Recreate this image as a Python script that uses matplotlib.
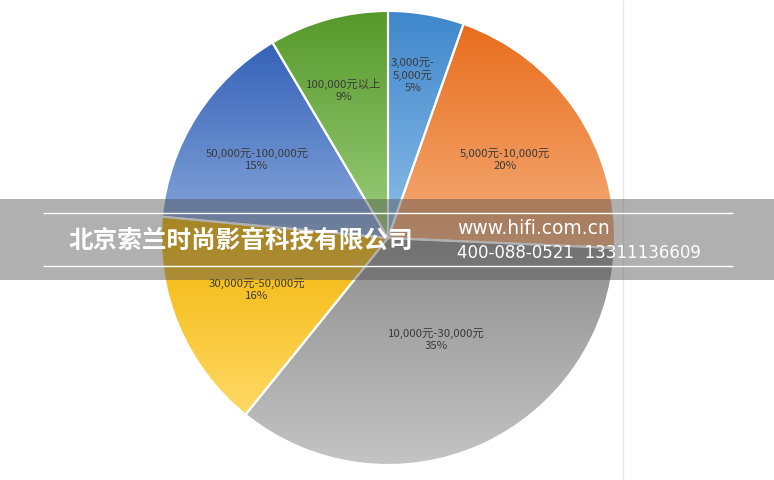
import numpy as np
import matplotlib.pyplot as plt
from matplotlib.colors import LinearSegmentedColormap

plt.rcParams['font.family'] = ['Noto Sans CJK SC', 'DejaVu Sans']

# data
categories = ['3,000元-\n5,000元', '5,000元-10,000元', '10,000元-30,000元',
              '30,000元-50,000元', '50,000元-100,000元', '100,000元以上']
shares = [5.4, 20.3, 35.1, 15.7, 15.0, 8.5]
pct_labels = ['5%', '20%', '35%', '16%', '15%', '9%']

# styles
top_colors = ['#3f87cc', '#e86d1c', '#8e8e8e', '#f2b300', '#3462b8', '#56992a']
bottom_colors = ['#8dbde8', '#f5ae7c', '#c4c4c4', '#ffd966', '#8aa9dc', '#9cce7c']
label_pos = [(413, 75), (505, 160), (436, 340), (257, 290), (257, 160), (344, 90)]
W, H = 774, 480
cx, cy, R = 388, H - 238, 227

fig = plt.figure(figsize=(W / 100, H / 100), dpi=100)
ax = fig.add_axes([0, 0, 1, 1])

wedges, _ = ax.pie(shares, center=(cx, cy), radius=R, startangle=90,
                   counterclock=False, frame=True,
                   wedgeprops=dict(edgecolor='white', linewidth=1.5))

# vertical gradient inside every slice
grad = np.linspace(0, 1, 256).reshape(-1, 1)
for w, c0, c1 in zip(wedges, top_colors, bottom_colors):
    w.set_facecolor('none')
    w.set_zorder(3)
    th = np.radians(np.linspace(w.theta1, w.theta2, 200))
    ys = np.concatenate([[cy], cy + R * np.sin(th)])
    cmap = LinearSegmentedColormap.from_list('g', [c0, c1])
    im = ax.imshow(grad, cmap=cmap, aspect='auto', origin='upper',
                   extent=(cx - R, cx + R, ys.min(), ys.max()), zorder=2)
    im.set_clip_path(w)

for (x, y), cat, p in zip(label_pos, categories, pct_labels):
    ax.text(x, H - y, f'{cat}\n{p}', ha='center', va='center', fontsize=8.2,
            color='#3a3a3a', linespacing=1.25, zorder=4)

ax.vlines(623, 0, H, color='#e8e8e8', lw=1, zorder=1)

# watermark band
ax.axhspan(H - 280, H - 199, color='#505050', alpha=0.45, lw=0, zorder=5)
ax.hlines([H - 213, H - 266], 43, 733, color='white', lw=1, zorder=6)
ax.text(69, H - 241, '北京索兰时尚影音科技有限公司', fontsize=17.7, fontweight='heavy',
        color='white', va='center', ha='left', zorder=6)
ax.text(457, H - 234.5, 'www.hifi.com.cn', fontsize=13.5, color='white',
        va='baseline', ha='left', family=['DejaVu Sans'], zorder=6)
ax.text(457, H - 257.5, '400-088-0521  13311136609', fontsize=12, color='white',
        va='baseline', ha='left', family=['DejaVu Sans'], zorder=6)

ax.set_xlim(0, W)
ax.set_ylim(0, H)
ax.axis('off')

fig.savefig('out.png', dpi=100)
